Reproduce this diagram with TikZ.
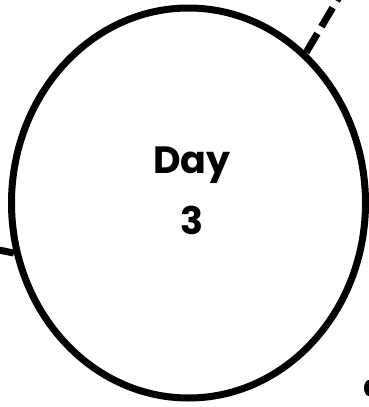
\documentclass[tikz,border=0pt]{standalone}
\usepackage{fontspec}
\setmainfont{Poppins}
\usetikzlibrary{shapes.geometric}

\begin{document}
\begin{tikzpicture}[x=1pt, y=-1pt, every node/.style={font=\bfseries\fontsize{38}{61}\selectfont}]
  \useasboundingbox (0,0) rectangle (369,407);

  % Day bubble
  \node[draw, ellipse, line width=7pt, minimum width=354pt, minimum height=390pt, inner sep=0pt] (day3) at (188.5,203) {};
  \node[align=center] (label) at (192,191) {Day\\3};

  % Links to the neighbouring days (dashed)
  \coordinate (nextday) at (342,-8);
  \coordinate (prevday) at (-6,249);
  \draw[line width=7pt, dash pattern=on 22pt off 8pt] (day3.52) -- (nextday);
  \draw[line width=7pt, dash pattern=on 22pt off 8pt] (day3.196) -- (prevday);

  % Bit of the next picture at the edge
  \fill[black] (369,388) ellipse (5 and 8);
\end{tikzpicture}
\end{document}
